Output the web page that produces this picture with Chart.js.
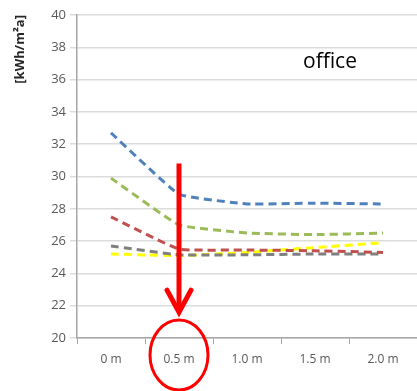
<!DOCTYPE html>
<html>
<head>
<meta charset="utf-8">
<script src="https://cdn.jsdelivr.net/npm/chart.js@4"></script>
<style>
  html, body { margin: 0; padding: 0; background: #fff; }
  #wrap { width: 417px; height: 391px; }
</style>
</head>
<body>
<div id="wrap"><canvas id="myChart"></canvas></div>
<script>
var distances = ["0 m", "0.5 m", "1.0 m", "1.5 m", "2.0 m"];
var blueData = [32.7, 28.9, 28.3, 28.35, 28.3];
var greenData = [29.9, 27.0, 26.5, 26.4, 26.5];
var redData = [27.5, 25.5, 25.45, 25.4, 25.3];
var grayData = [25.7, 25.15, 25.15, 25.2, 25.2];
var yellowData = [25.2, 25.1, 25.3, 25.6, 25.9];
var yMin = 20, yMax = 40, yStep = 2;

// red arrow + circle around the 0.5 m label, plus the "office" label
var markPlugin = {
    id: "marks",
    afterDraw: function (chart) {
        let ctx = chart.ctx;
        let x = chart.scales.x.getPixelForValue(1);
        let y = chart.scales.y;
        let top = y.getPixelForValue(30.8);
        let tip = y.getPixelForValue(21.6);
        ctx.save();
        ctx.strokeStyle = "#ff0000";
        ctx.lineWidth = 5;
        ctx.beginPath();
        ctx.moveTo(x, top);
        ctx.lineTo(x, tip - 2);
        ctx.stroke();
        ctx.lineCap = "round";
        ctx.beginPath();
        ctx.moveTo(x - 12, tip - 22);
        ctx.lineTo(x, tip);
        ctx.lineTo(x + 12, tip - 22);
        ctx.stroke();

        ctx.lineWidth = 3;
        ctx.beginPath();
        ctx.ellipse(x, chart.chartArea.bottom + 17, 29, 35, 0, 0, Math.PI * 2);
        ctx.stroke();

        ctx.fillStyle = "#000";
        ctx.font = "21px 'Open Sans'";
        ctx.textAlign = "center";
        ctx.textBaseline = "middle";
        ctx.fillText("office", 330, 62);
        ctx.restore();
    }
};

function line(label, color, data) {
    return {
        label: label,
        data: data,
        borderColor: color,
        backgroundColor: color,
        borderWidth: 3,
        borderDash: [8, 5],
        pointRadius: 0,
        fill: false,
        tension: 0.1
    };
}

new Chart(document.getElementById("myChart"), {
    type: "line",
    data: {
        labels: distances,
        datasets: [
            line("blue", "#4f81bd", blueData),
            line("green", "#9bbb59", greenData),
            line("red", "#c0504d", redData),
            line("gray", "#7f7f7f", grayData),
            line("yellow", "#ffff00", yellowData)
        ]
    },
    options: {
        responsive: true,
        maintainAspectRatio: false,
        animation: false,
        layout: { padding: { top: 15, right: 0, bottom: 0, left: 0 } },
        plugins: {
            legend: { display: false },
            tooltip: { enabled: false }
        },
        scales: {
            x: {
                offset: true,
                grid: { drawOnChartArea: false, offset: true, tickLength: 6, color: "#a6a6a6" },
                border: { color: "#a6a6a6", width: 1.5 },
                ticks: { color: "#595959", font: { family: "Open Sans", size: 12 }, padding: 8 },
                afterFit: function (s) { s.height = 53; }
            },
            y: {
                min: yMin,
                max: yMax,
                ticks: { stepSize: yStep, color: "#595959", font: { family: "Open Sans", size: 13 }, padding: 4 },
                grid: { color: "#dcdcdc", tickLength: 7, lineWidth: 1.5 },
                border: { color: "#a6a6a6", width: 1.5 },
                title: {
                    display: true,
                    text: "[kWh/m²a]",
                    align: "end",
                    color: "#262626",
                    font: { family: "Open Sans", size: 13, weight: "bold" },
                    padding: { top: 12, bottom: 0 }
                },
                afterFit: function (s) { s.width = 77; }
            }
        }
    },
    plugins: [markPlugin]
});
</script>
</body>
</html>
